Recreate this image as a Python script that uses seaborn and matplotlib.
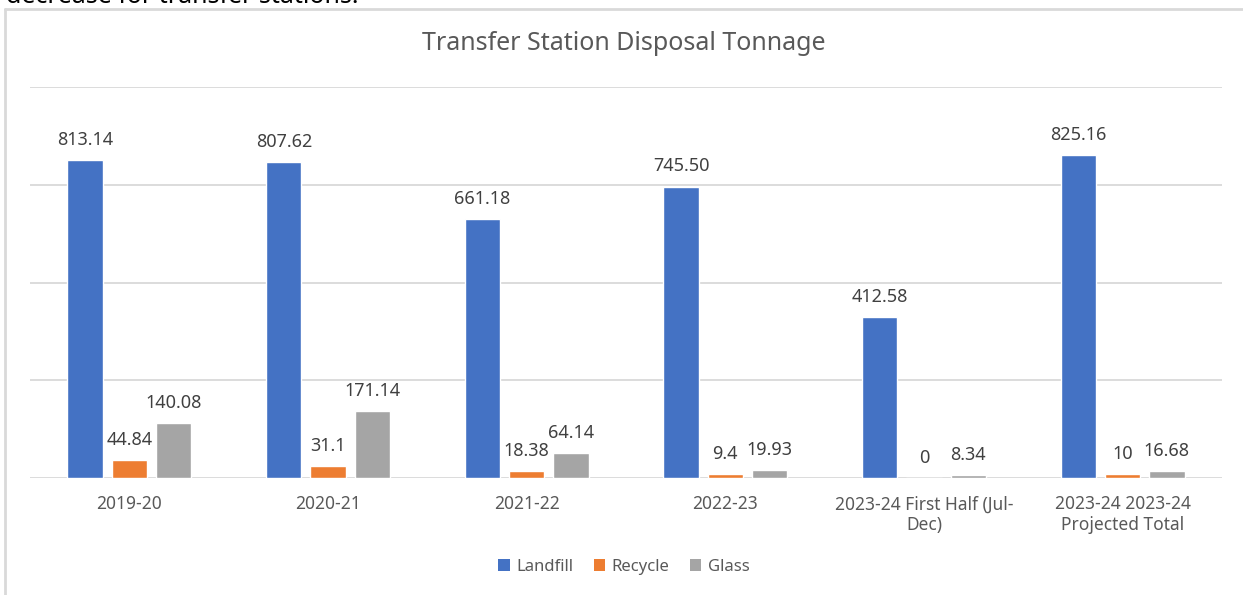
import seaborn as sns
import pandas as pd
import matplotlib.pyplot as plt
from matplotlib.lines import Line2D
from matplotlib.patches import Patch

sns.set_style("white")
plt.rcParams['font.family'] = ['Noto Sans', 'DejaVu Sans']

years = ['2019-20', '2020-21', '2021-22', '2022-23',
         '2023-24 First Half (Jul-\nDec)', '2023-24 2023-24\nProjected Total']
landfill = [813.14, 807.62, 661.18, 745.50, 412.58, 825.16]
recycle = [44.84, 31.1, 18.38, 9.4, 0, 10]
glass = [140.08, 171.14, 64.14, 19.93, 8.34, 16.68]
landfill_lbl = ['813.14', '807.62', '661.18', '745.50', '412.58', '825.16']
recycle_lbl = ['44.84', '31.1', '18.38', '9.4', '0', '10']
glass_lbl = ['140.08', '171.14', '64.14', '19.93', '8.34', '16.68']
series = ['Landfill', 'Recycle', 'Glass']
colors = ['#4472C4', '#ED7D31', '#A5A5A5']

df = pd.concat([
    pd.DataFrame({'Year': years, 'Type': s, 'Tons': v})
    for s, v in zip(series, [landfill, recycle, glass])
], ignore_index=True)

txt = '#595959'
fig = plt.figure(figsize=(12.43, 5.95), dpi=100)
ax = fig.add_axes([30/1243, 1-478/595, 1192/1243, 391/595])

sns.barplot(data=df, x='Year', y='Tons', hue='Type', palette=colors,
            width=0.667, gap=0.2, saturation=1, legend=False, ax=ax)

ax.set_ylim(0, 1000)
ax.set_yticks([0, 250, 500, 750, 1000])
ax.yaxis.grid(True, color='#D9D9D9', linewidth=1.3)
ax.set_axisbelow(True)
for sp in ax.spines.values():
    sp.set_visible(False)
ax.tick_params(axis='y', left=False, labelleft=False)
ax.tick_params(axis='x', bottom=False, labelsize=12.5, labelcolor=txt, pad=9)
ax.set_xlabel('')
ax.set_ylabel('')

for cont, lbls in zip(ax.containers, [landfill_lbl, recycle_lbl, glass_lbl]):
    ax.bar_label(cont, labels=lbls, padding=8, fontsize=13, color='#404040')

fig.text(0.502, 1-44/595, 'Transfer Station Disposal Tonnage', ha='center',
         va='center', fontsize=18, color=txt)

handles = [Patch(facecolor=c, edgecolor='none') for c in colors]
fig.legend(handles, series, loc='center', bbox_to_anchor=(0.502, 1-567/595),
           ncol=3, frameon=False, fontsize=12, labelcolor=txt,
           handlelength=0.7, handleheight=0.7, handletextpad=0.4,
           columnspacing=1.2)

# chart frame (left and top edges visible in the screenshot)
fig.add_artist(Line2D([5/1243, 5/1243], [0, 1-9/595], transform=fig.transFigure,
                      color='#D9D9D9', linewidth=2))
fig.add_artist(Line2D([5/1243, 1], [1-9/595, 1-9/595], transform=fig.transFigure,
                      color='#D9D9D9', linewidth=2))

# text of the page above the chart, cut off by the screenshot
fig.text(6/1243, 1-3/595, 'decrease for transfer stations.', ha='left',
         va='baseline', fontsize=18, color='black')

fig.savefig('out.png', dpi=100)
